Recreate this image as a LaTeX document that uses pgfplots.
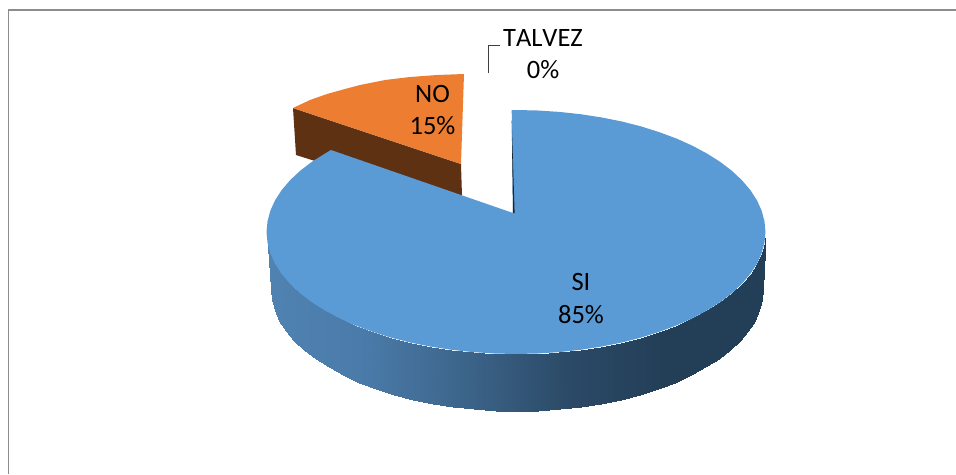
\documentclass[border=0pt]{standalone}
\usepackage{pgfplots}
\pgfplotsset{compat=1.18}
\usepackage{fontspec}
\setmainfont{Carlito}

\definecolor{piblue}{HTML}{5B9BD5}
\definecolor{piorange}{HTML}{ED7D31}
\definecolor{pibrown}{HTML}{5E3112}

\begin{document}
\begin{tikzpicture}
\begin{axis}[
    scale only axis,
    width=956pt,
    height=474pt,
    xmin=0, xmax=956,
    ymin=0, ymax=474,
    y dir=reverse,
    hide axis,
    colormap={pieside}{rgb255=(80,131,178) rgb255=(74,122,168) rgb255=(60,100,137) rgb255=(43,74,103) rgb255=(35,62,87) rgb255=(35,62,87)},
    point meta min=267,
    point meta max=767,
]

% hide axis leaves the box out of the page size
\path (axis cs:0,0) rectangle (axis cs:956,474);

% chart frame, only top and left are visible
\addplot[color=black!45, line width=1.9pt] coordinates {(956,10) (8.5,10) (8.5,474)};

% NO slice
\addplot[draw=none, fill=pibrown] coordinates {(293,108) (461,164) (462,196) (400,240) (315,161) (296,155)};
\addplot[draw=none, fill=piorange] coordinates {(293,108) (310,100) (327,94) (345,89) (360,85) (385,80) (410,77) (437,75) (464,74) (461,164)};

% SI wall
\addplot[surf, shader=interp, mesh/cols=37, mesh/rows=2, point meta=x] table {
x y
266.5 232
267.5 242.6
270.3 253.2
275 263.6
281.5 273.7
289.9 283.6
299.9 293
311.6 302
324.9 310.4
339.6 318.3
355.6 325.5
372.9 331.9
391.2 337.7
410.6 342.6
430.7 346.6
451.4 349.8
472.7 352.1
494.2 353.5
516 354
537.8 353.5
559.3 352.1
580.6 349.8
601.3 346.6
621.4 342.6
640.8 337.7
659.1 331.9
676.4 325.5
692.4 318.3
707.1 310.4
720.4 302
732.1 293
742.1 283.6
750.5 273.7
757 263.6
761.7 253.2
764.5 242.6
765.5 232
271 289
271.9 299.6
274.7 310.2
279.4 320.6
285.8 330.7
294 340.6
304 350
315.5 359
328.6 367.4
343.1 375.3
358.9 382.5
375.9 388.9
394 394.7
413 399.6
432.9 403.6
453.3 406.8
474.3 409.1
495.6 410.5
517 411
538.4 410.5
559.7 409.1
580.7 406.8
601.1 403.6
621 399.6
640 394.7
658.1 388.9
675.1 382.5
690.9 375.3
705.4 367.4
718.5 359
730 350
740 340.6
748.2 330.7
754.6 320.6
759.3 310.2
762.1 299.6
763 289
};

% SI top face
\addplot[draw=none, fill=piblue] coordinates {
(513,213) (511.7,110.2) (516,110) (537.8,110.5) (559.3,111.9) (580.6,114.2) (601.3,117.4) (621.4,121.4)
(640.8,126.3) (659.1,132.1) (676.4,138.5) (692.4,145.7) (707.1,153.6) (720.4,162) (732.1,171) (742.1,180.4)
(750.5,190.3) (757,200.4) (761.7,210.8) (764.5,221.4) (765.5,232) (764.5,242.6) (761.7,253.2) (757,263.6)
(750.5,273.7) (742.1,283.6) (732.1,293) (720.4,302) (707.1,310.4) (692.4,318.3) (676.4,325.5) (659.1,331.9)
(640.8,337.7) (621.4,342.6) (601.3,346.6) (580.6,349.8) (559.3,352.1) (537.8,353.5) (516,354) (494.2,353.5)
(472.7,352.1) (451.4,349.8) (430.7,346.6) (410.6,342.6) (391.2,337.7) (372.9,331.9) (355.6,325.5) (339.6,318.3)
(324.9,310.4) (311.6,302) (299.9,293) (289.9,283.6) (281.5,273.7) (275,263.6) (270.3,253.2) (267.5,242.6)
(266.5,232) (267.5,221.4) (270.3,210.8) (275,200.4) (281.5,190.3) (289.9,180.4) (299.9,171) (311.6,162)
(324.9,153.6) (331,150)
};

% cut face of SI, seen edge on
\addplot[draw=none, fill=black!75!piblue] coordinates {(511.7,120) (513,213) (514.6,213)};

% leader line of TALVEZ
\addplot[color=black!75, line width=0.9pt] coordinates {(488,73) (488,45) (500,45)};

\node[align=center, font=\fontsize{26.5}{32.5}\selectfont] at (axis cs:581,298.5) {SI\\85\%};
\node[align=center, font=\fontsize{26.5}{32.5}\selectfont] at (axis cs:432.5,110) {NO\\15\%};
\node[align=center, font=\fontsize{26.5}{32.5}\selectfont\addfontfeatures{Kerning=Off}] at (axis cs:543,54) {TALVEZ\\0\%};
\end{axis}
\end{tikzpicture}
\end{document}
